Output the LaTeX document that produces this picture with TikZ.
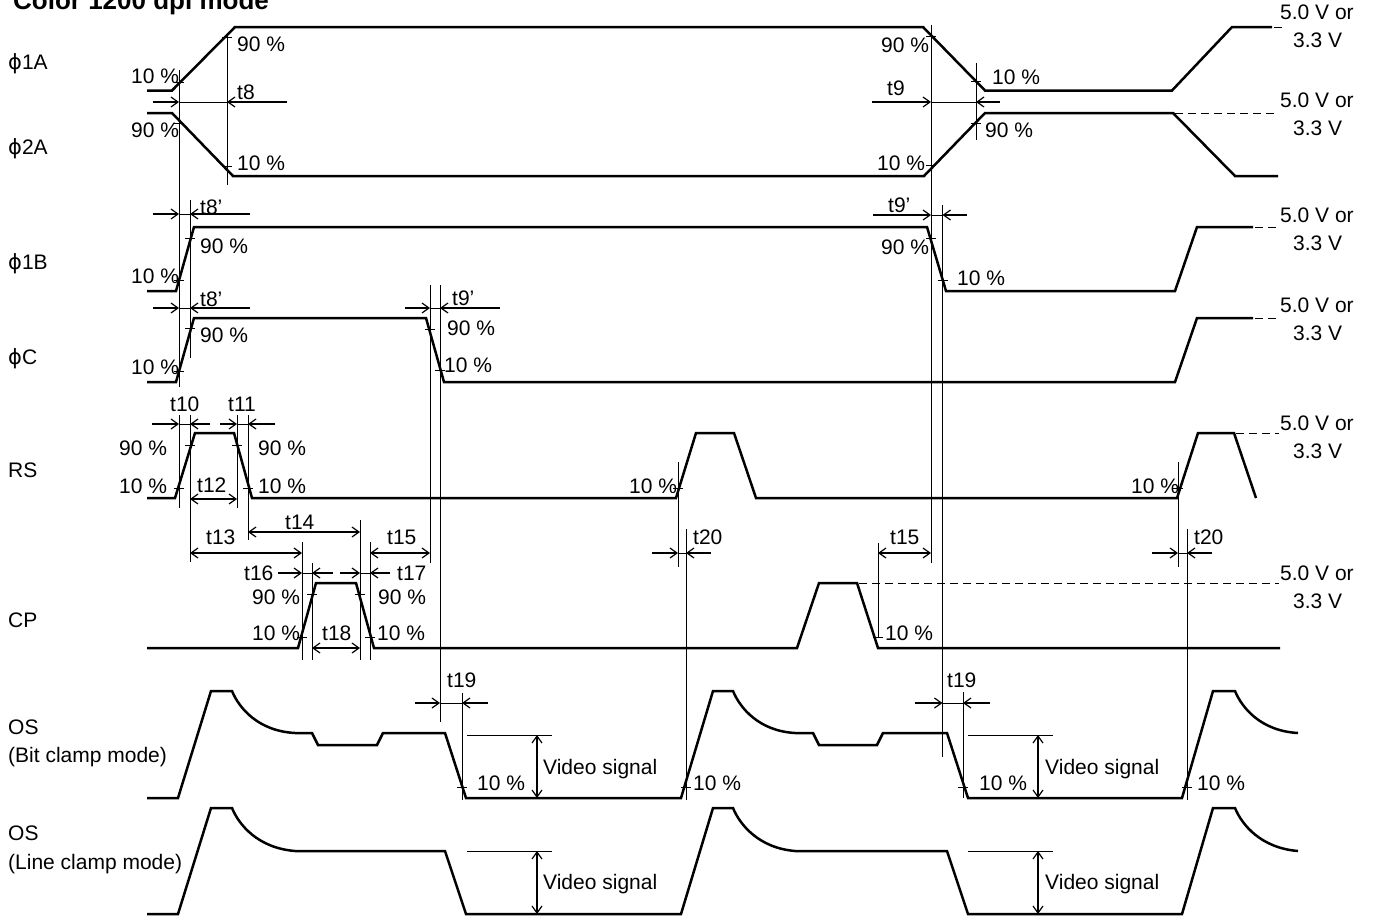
\documentclass[tikz,border=0pt]{standalone}
\usepackage{fontspec}
\setmainfont{Liberation Sans}
\newfontfamily\grk{DejaVu Sans}
\usetikzlibrary{arrows.meta}
\begin{document}
\begin{tikzpicture}[x=1pt,y=-1pt,
  sig/.style={line width=2.5pt},
  thin/.style={line width=1pt},
  tk/.style={line width=1pt},
  barb/.tip={Straight Barb[length=7pt,width=10pt,line width=1.2pt]},
  dimr/.style={line width=2pt,-barb},
  dimb/.style={line width=2pt,barb-barb},
  dsh/.style={line width=1pt,dash pattern=on 8pt off 5pt},
  lbl/.style={font=\fontsize{21}{25}\selectfont,inner sep=0pt,anchor=west,text height=15pt,text depth=0pt},
  ttl/.style={font=\bfseries\fontsize{26}{30}\selectfont,inner sep=0pt,anchor=base west}]
\useasboundingbox (0,0) rectangle (1376,919);

% title
\node[ttl] (title) at (13,9) {Color 1200 dpi mode};

% signal names
\node[lbl] (n1) at (8,62) {{\grk ϕ}1A};
\node[lbl] (n2) at (8,147) {{\grk ϕ}2A};
\node[lbl] (n3) at (8,262) {{\grk ϕ}1B};
\node[lbl] (n4) at (8,357) {{\grk ϕ}C};
\node[lbl] (n5) at (8,470) {RS};
\node[lbl] (n6) at (8,620) {CP};
\node[lbl] (n7) at (8,727) {OS};
\node[lbl] (n8) at (8,755) {(Bit clamp mode)};
\node[lbl] (n9) at (8,833) {OS};
\node[lbl] (n10) at (8,862) {(Line clamp mode)};

% voltage labels
\foreach \y/\nm in {12/a,100/b,215/c,305/d,423/e,573/f}{
  \node[lbl] (v\nm1) at (1280,\y) {5.0 V or};
  \node[lbl] (v\nm2) at (1293,\y+28) {3.3 V};
}

% signals
\draw[sig] (147,90.5)--(172,90.5)--(235,27)--(923,27)--(985,90.5)--(1172,90.5)--(1232,27)--(1272,27);
\draw[sig] (147,113)--(172,113)--(233,176)--(924,176)--(985,113)--(1173,113)--(1235,176)--(1278,176);
\draw[sig] (147,291)--(176,291)--(194,227)--(927,227)--(946,291)--(1175,291)--(1197,227)--(1253,227);
\draw[sig] (147,382)--(176,382)--(194,318)--(426,318)--(444,382)--(1175,382)--(1197,318)--(1253,318);
\draw[sig] (147,498)--(175,498)--(195,433)--(234,433)--(252,498)--(676,498)--(696,433)--(734,433)--(756,498)--(1177,498)--(1198,433)--(1234,433)--(1256,498);
\draw[sig] (147,648)--(298,648)--(316,583)--(356,583)--(374,648)--(797,648)--(819,583)--(857,583)--(878,648)--(1280,648);
% OS bit clamp
\draw[sig] (147,798)--(178,798)--(211,691)--(232,691) .. controls (239,708) and (258,731) .. (295,733)
  --(312,733)--(318,745)--(377,745)--(383,733)--(445,733)--(466,798)--(681,798)--(713,691)--(733,691)
  .. controls (740,708) and (759,731) .. (795,733)--(813,733)--(819,745)--(877,745)--(883,733)--(947,733)
  --(968,798)--(1182,798)--(1213,691)--(1235,691) .. controls (1242,708) and (1261,731) .. (1298,733);
% OS line clamp
\draw[sig] (147,914)--(178,914)--(211,808)--(232,808) .. controls (239,825) and (258,848) .. (295,851)
  --(445,851)--(466,914)--(681,914)--(713,808)--(733,808)
  .. controls (740,825) and (759,848) .. (795,851)--(947,851)
  --(968,914)--(1182,914)--(1213,808)--(1235,808) .. controls (1242,825) and (1261,848) .. (1298,851);

% dashed continuations
\draw[dsh] (1274,27)--(1286,27);
\draw[dsh] (1175,113)--(1274,113);
\draw[dsh] (1255,227)--(1276,227);
\draw[dsh] (1255,318)--(1276,318);
\draw[dsh] (1236,433)--(1279,433);
\draw[dsh] (859,583)--(1279,583);

% vertical extension lines
\foreach \x/\a/\b in {179/70/387, 227/33/185, 190/200/358, 976/63/140, 931/25/563, 942.5/205/757,
  430/285/563, 440/285/722, 179/415/508, 190/415/562, 237/415/508, 248/415/540,
  302/542/660, 312/563/660, 360/520/660, 370/542/660, 678/462/567, 686/529/800, 878/543/638,
  1178/462/567, 1187/529/800, 462/693/800, 963/692/798}
  \draw[thin] (\x,\a)--(\x,\b);

% ticks
\foreach \x/\y in {227/37, 179/82, 179/123, 227/166, 931/36, 976/81, 931/165, 976/123,
  179/280, 190/238, 179/371, 190/328, 430/329, 440/370, 931/238, 942.5/280,
  179/488, 190/445, 237/445, 248/488, 678/488, 1178/488,
  302/637, 312/594, 360/594, 370/637, 878/637,
  462/787, 686/787, 963/787, 1187/787}
  \draw[tk] (\x-5,\y)--(\x+5,\y);

% single-sided dimension arrows with thin link
\foreach \y/\l/\a/\b/\r in {102/153/179/227/287, 102/872/931/976/1000,
  214/153/179/190/250, 308/153/179/190/250, 308/405/430/440/500, 215/873/931/942.5/967,
  424/152/179/190/210, 424/220/237/248/275, 573/278/302/312/333, 573/340/360/370/390,
  703/415/440/462/488, 703/915/942.5/963/990, 553/652/678/686/711, 553/1152/1178/1187/1212}{
  \draw[dimr] (\l,\y)--(\a,\y);
  \draw[dimr] (\r,\y)--(\b,\y);
  \draw[thin] (\a,\y)--(\b,\y);
}

% double arrows
\draw[dimb] (190,499)--(237,499);
\draw[dimb] (190,553)--(302,553);
\draw[dimb] (248,532)--(360,532);
\draw[dimb] (370,553)--(430,553);
\draw[dimb] (878,553)--(931,553);
\draw[dimb] (312,648)--(360,648);
\draw[dimb] (537,735)--(537,798);
\draw[dimb] (1038,735)--(1038,798);
\draw[dimb] (537,851)--(537,914);
\draw[dimb] (1038,851)--(1038,914);
\draw[thin] (467,735)--(552,735);
\draw[thin] (968,735)--(1053,735);
\draw[thin] (467,851)--(552,851);
\draw[thin] (968,851)--(1053,851);

% percentage and timing labels
\node[lbl] (p1) at (131,76) {10 \%};
\node[lbl] (p2) at (237,44) {90 \%};
\node[lbl] (p3) at (131,130) {90 \%};
\node[lbl] (p4) at (237,163) {10 \%};
\node[lbl] (p5) at (881,45) {90 \%};
\node[lbl] (p6) at (992,77) {10 \%};
\node[lbl] (p7) at (877,163) {10 \%};
\node[lbl] (p8) at (985,130) {90 \%};
\node[lbl] (t8) at (237,92) {t8};
\node[lbl] (t9) at (887,88) {t9};
\node[lbl] (t8a) at (200,207) {t8’};
\node[lbl] (p9) at (200,246) {90 \%};
\node[lbl] (p10) at (131,276) {10 \%};
\node[lbl] (t8b) at (200,299) {t8’};
\node[lbl] (p11) at (200,335) {90 \%};
\node[lbl] (p12) at (131,367) {10 \%};
\node[lbl] (t9a) at (452,298) {t9’};
\node[lbl] (p13) at (447,328) {90 \%};
\node[lbl] (p14) at (444,365) {10 \%};
\node[lbl] (t9b) at (888,205) {t9’};
\node[lbl] (p15) at (881,247) {90 \%};
\node[lbl] (p16) at (957,278) {10 \%};
\node[lbl] (t10) at (170,404) {t10};
\node[lbl] (t11) at (228,404) {t11};
\node[lbl] (p17) at (119,448) {90 \%};
\node[lbl] (p18) at (119,486) {10 \%};
\node[lbl] (p19) at (258,448) {90 \%};
\node[lbl] (p20) at (258,486) {10 \%};
\node[lbl] (t12) at (197,485) {t12};
\node[lbl] (t13) at (206,537) {t13};
\node[lbl] (t14) at (285,522) {t14};
\node[lbl] (t15) at (387,537) {t15};
\node[lbl] (p21) at (629,486) {10 \%};
\node[lbl] (t20) at (693,537) {t20};
\node[lbl] (t15b) at (890,537) {t15};
\node[lbl] (p22) at (1131,486) {10 \%};
\node[lbl] (t20b) at (1194,537) {t20};
\node[lbl] (t16) at (244,573) {t16};
\node[lbl] (t17) at (397,573) {t17};
\node[lbl] (p23) at (252,597) {90 \%};
\node[lbl] (p24) at (252,633) {10 \%};
\node[lbl] (p25) at (378,597) {90 \%};
\node[lbl] (p26) at (377,633) {10 \%};
\node[lbl] (t18) at (322,633) {t18};
\node[lbl] (p27) at (885,633) {10 \%};
\node[lbl] (t19) at (447,680) {t19};
\node[lbl] (p28) at (477,783) {10 \%};
\node[lbl] (vs1) at (543,767) {Video signal};
\node[lbl] (p29) at (693,783) {10 \%};
\node[lbl] (t19b) at (947,680) {t19};
\node[lbl] (p30) at (979,783) {10 \%};
\node[lbl] (vs2) at (1045,767) {Video signal};
\node[lbl] (p31) at (1197,783) {10 \%};
\node[lbl] (vs3) at (543,882) {Video signal};
\node[lbl] (vs4) at (1045,882) {Video signal};
\end{tikzpicture}
\end{document}
